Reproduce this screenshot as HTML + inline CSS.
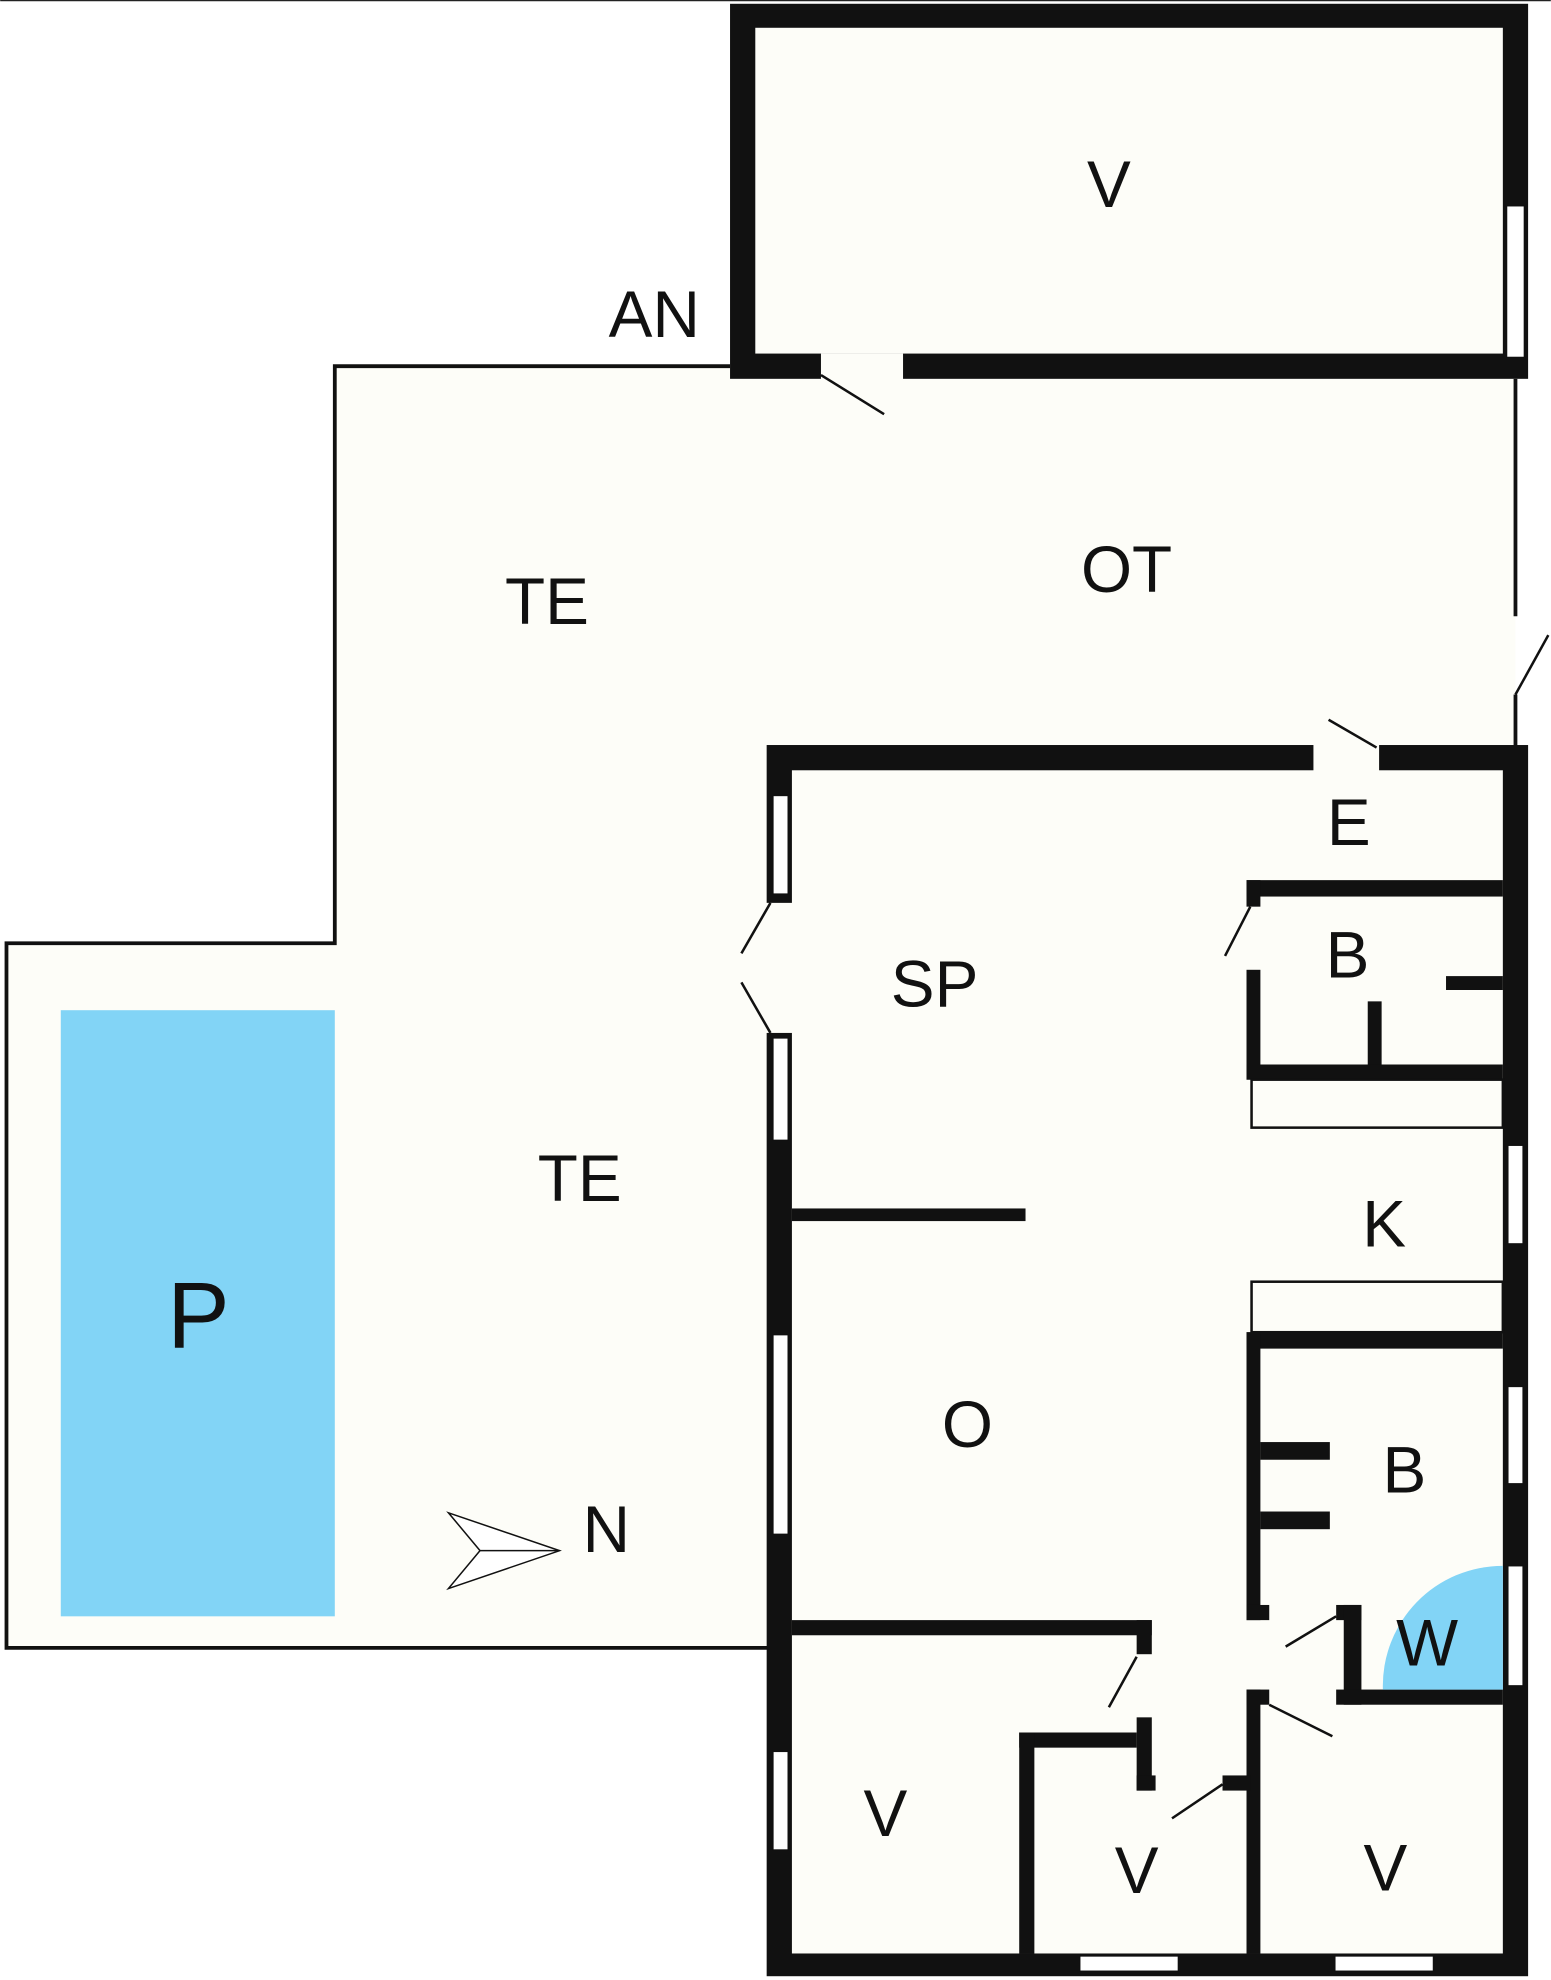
<!DOCTYPE html>
<html><head><meta charset="utf-8"><style>html,body{margin:0;padding:0;background:#fff}svg{display:block}</style></head>
<body>
<svg width="1551" height="1980" viewBox="0 0 1228 1568" xmlns="http://www.w3.org/2000/svg" font-family="Liberation Sans, sans-serif">
<rect x="0" y="0" width="1228" height="1568" fill="#fff"/>
<line x1="0" y1="0.5" x2="1228" y2="0.5" stroke="#222" stroke-width="1"/>
<!-- terrace fill + outline -->
<polygon points="265,290 578,290 578,300 1200,300 1200,592 610,592 610,1305 5,1305 5,747 265,747" fill="#fdfdf8"/>
<polyline points="578,290 265,290 265,747 5,747 5,1305 610,1305" fill="none" stroke="#111" stroke-width="3"/>
<line x1="1200" y1="300" x2="1200" y2="488" stroke="#111" stroke-width="3"/>
<line x1="1200" y1="550" x2="1200" y2="592" stroke="#111" stroke-width="3"/>
<line x1="1200" y1="550" x2="1226" y2="503" stroke="#111" stroke-width="2"/>
<!-- pool -->
<rect x="48" y="800" width="217" height="480" fill="#82d4f6"/>
<!-- top building -->
<rect x="578" y="3" width="632" height="297" fill="#111"/>
<rect x="598" y="22" width="592" height="258" fill="#fdfdf8"/>
<rect x="650" y="280" width="65" height="21" fill="#fdfdf8"/>
<line x1="650" y1="297" x2="700" y2="328" stroke="#111" stroke-width="2"/>
<rect x="1193" y="163" width="14" height="120" fill="#fff" stroke="#111" stroke-width="1"/>
<!-- main building -->
<rect x="607" y="590" width="603" height="975" fill="#111"/>
<rect x="627" y="610" width="563" height="937" fill="#fdfdf8"/>
<rect x="1040" y="589" width="52" height="22" fill="#fdfdf8"/>
<line x1="1052" y1="570" x2="1090" y2="592" stroke="#111" stroke-width="2"/>
<!-- left windows / door -->
<g fill="#fff" stroke="#111" stroke-width="1">
<rect x="612" y="630" width="12" height="78"/>
<rect x="612" y="822" width="12" height="81"/>
<rect x="612" y="1057" width="12" height="158"/>
<rect x="612" y="1387" width="12" height="78"/>
<rect x="1194" y="907" width="12" height="78"/>
<rect x="1194" y="1098" width="12" height="77"/>
<rect x="1194" y="1240" width="12" height="95"/>
<rect x="855" y="1549" width="78" height="12"/>
<rect x="1057" y="1549" width="78" height="12"/>
</g>
<rect x="606" y="715" width="22" height="103" fill="#fdfdf8"/>
<line x1="587" y1="755" x2="610" y2="715" stroke="#111" stroke-width="2"/>
<line x1="587" y1="778" x2="610" y2="818" stroke="#111" stroke-width="2"/>
<!-- interior walls -->
<g fill="#111">
<rect x="627" y="957" width="185" height="10"/>
<rect x="987" y="697" width="203" height="13"/>
<rect x="987" y="697" width="11" height="21"/>
<rect x="987" y="768" width="11" height="87"/>
<rect x="987" y="843" width="203" height="12"/>
<rect x="1145" y="773" width="45" height="11"/>
<rect x="1083" y="793" width="11" height="50"/>
<rect x="987" y="1055" width="203" height="13"/>
<rect x="987" y="1055" width="11" height="228"/>
<rect x="998" y="1142" width="55" height="14"/>
<rect x="998" y="1197" width="55" height="14"/>
<rect x="987" y="1271" width="18" height="12"/>
<rect x="1058" y="1271" width="20" height="12"/>
<rect x="1064" y="1271" width="14" height="79"/>
<rect x="1058" y="1338" width="132" height="12"/>
<rect x="987" y="1338" width="18" height="12"/>
<rect x="987" y="1338" width="11" height="209"/>
<rect x="627" y="1283" width="285" height="12"/>
<rect x="900" y="1283" width="12" height="27"/>
<rect x="900" y="1360" width="12" height="58"/>
<rect x="900" y="1406" width="15" height="12"/>
<rect x="968" y="1406" width="22" height="12"/>
<rect x="807" y="1372" width="93" height="12"/>
<rect x="807" y="1372" width="12" height="175"/>
</g>
<rect x="991" y="855" width="199" height="38" fill="none" stroke="#111" stroke-width="2"/>
<rect x="991" y="1015" width="199" height="40" fill="none" stroke="#111" stroke-width="2"/>
<path d="M1095,1338 A95,95 0 0 1 1190,1240 L1190,1338 Z" fill="#82d4f6"/>
<g stroke="#111" stroke-width="2">
<line x1="970" y1="757" x2="990" y2="718"/>
<line x1="1018" y1="1304" x2="1058" y2="1280"/>
<line x1="1005" y1="1350" x2="1055" y2="1375"/>
<line x1="878" y1="1352" x2="900" y2="1312"/>
<line x1="928" y1="1440" x2="968" y2="1413"/>
</g>
<!-- compass -->
<polygon points="355,1198 443,1228 355,1258 380,1228" fill="#fff" stroke="#111" stroke-width="1.2"/>
<line x1="380" y1="1228" x2="443" y2="1228" stroke="#111" stroke-width="1.2"/>
<!-- labels -->
<g fill="#111" font-size="52" text-anchor="middle">
<text x="878" y="164">V</text>
<text x="518" y="267">AN</text>
<text x="433" y="494">TE</text>
<text x="892" y="469">OT</text>
<text x="1068" y="669">E</text>
<text x="740" y="797">SP</text>
<text x="1067" y="774">B</text>
<text x="459" y="951">TE</text>
<text x="1096" y="987">K</text>
<text x="157" y="1067" font-size="74">P</text>
<text x="766" y="1146">O</text>
<text x="1112" y="1182">B</text>
<text x="1130" y="1319">W</text>
<text x="480" y="1229">N</text>
<text x="701" y="1454">V</text>
<text x="900" y="1499">V</text>
<text x="1097" y="1497">V</text>
</g>
</svg>
</body></html>
